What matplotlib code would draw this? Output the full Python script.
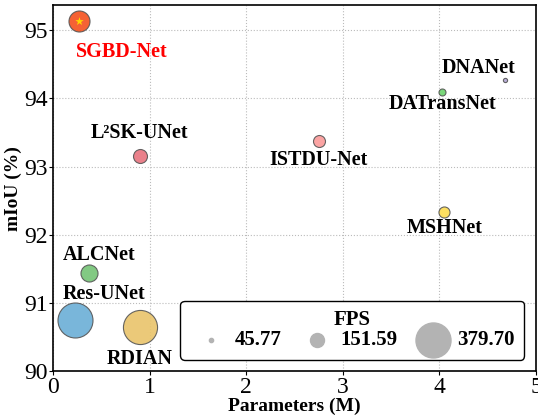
import matplotlib
matplotlib.use("Agg")
import matplotlib.pyplot as plt

plt.rcParams['font.family'] = ['Liberation Serif', 'DejaVu Serif']
plt.rcParams['mathtext.fontset'] = 'stix'

names = ['SGBD-Net', 'L²SK-UNet', 'ISTDU-Net', 'DATransNet', 'DNANet',
         'MSHNet', 'ALCNet', 'Res-UNet', 'RDIAN']
params = [0.27, 0.90, 2.75, 4.03, 4.68, 4.05, 0.376, 0.23, 0.90]
miou = [95.13, 93.15, 93.38, 94.10, 94.27, 92.34, 91.44, 90.75, 90.65]
fps = [228.0, 151.59, 130.0, 76.0, 45.77, 120.0, 185.0, 379.70, 370.0]
colors = ['#f4511e', '#e8737f', '#fb9a99', '#6dd36d', '#b1a4d2',
          '#fddc50', '#74c476', '#6baed6', '#e9c46a']
legend_fps = [45.77, 151.59, 379.70]

label_offsets = {
    'SGBD-Net': (31, -22), 'L²SK-UNet': (0, 17), 'ISTDU-Net': (0, -14),
    'DATransNet': (0, -9), 'DNANet': (-19, 9), 'MSHNet': (0, -12),
    'ALCNet': (7, 13), 'Res-UNet': (21, 19), 'RDIAN': (0, -23),
}

k = 0.0664
def size(f):
    return (f * k) ** 2

fig = plt.figure(figsize=(5.38, 4.17), dpi=100)
ax = fig.add_axes([0.0985, 0.110, 0.8978, 0.878])

for n, x, y, f, c in zip(names, params, miou, fps, colors):
    ax.scatter(x, y, s=size(f), c=c, alpha=0.9, edgecolors='#555555',
               linewidths=0.8, zorder=3)
    dx, dy = label_offsets[n]
    col = 'red' if n == 'SGBD-Net' else 'black'
    ax.annotate(n, (x, y), xytext=(dx, dy), textcoords='offset points',
                ha='center', va='center', fontsize=14.5, fontweight='bold',
                color=col, zorder=4)

ax.scatter(params[0], miou[0], marker='*', s=40, c='#ffd700', zorder=5,
           linewidths=0)

ax.set_xlim(0, 5)
ax.set_ylim(90, 95.37)
ax.set_xticks([0, 1, 2, 3, 4, 5])
ax.set_yticks([90, 91, 92, 93, 94, 95])
ax.tick_params(labelsize=17, length=3, pad=1)
ax.grid(True, linestyle=':', color='#bbbbbb', linewidth=0.8)
ax.set_axisbelow(True)
ax.set_xlabel('Parameters (M)', fontsize=14, fontweight='bold', labelpad=0)
ax.set_ylabel('mIoU (%)', fontsize=14, fontweight='bold', labelpad=1)
for s in ax.spines.values():
    s.set_linewidth(1.2)

handles = [ax.scatter([], [], s=size(f), c='#b3b3b3', label=f'{f:.2f}')
           for f in legend_fps]
leg = ax.legend(handles=handles, title='FPS', ncol=3, loc='lower right',
                bbox_to_anchor=(0.997, 0.003), frameon=True, fancybox=True,
                edgecolor='black', framealpha=1,
                prop={'weight': 'bold', 'size': 15},
                title_fontproperties={'weight': 'bold', 'size': 15},
                handletextpad=0.15, columnspacing=0.7, borderpad=0.45,
                labelspacing=0.2)
leg._legend_box.sep = 0
leg.get_frame().set_linewidth(1.0)

fig.savefig('out.png', dpi=100)
